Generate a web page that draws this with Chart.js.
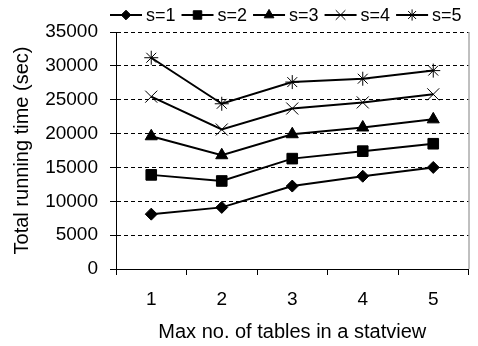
<!DOCTYPE html>
<html>
<head>
<meta charset="utf-8">
<script src="https://cdn.jsdelivr.net/npm/chart.js@4/dist/chart.umd.min.js"></script>
<style>
  html, body { margin: 0; padding: 0; background: #fff; }
  #wrap { width: 478px; height: 346px; }
</style>
</head>
<body>
<div id="wrap"><canvas id="c" width="478" height="346"></canvas></div>
<script>
// Max number of tables in a statview
const categories = ['1', '2', '3', '4', '5'];

// Total running time (sec) for each s
const s1 = [8100, 9100, 12250, 13700, 15000];
const s2 = [13900, 13000, 16300, 17400, 18500];
const s3 = [19600, 16800, 19900, 20900, 22100];
const s4 = [25450, 20600, 23700, 24600, 25800];
const s5 = [31200, 24400, 27600, 28100, 29300];

const seriesNames = ['s=1', 's=2', 's=3', 's=4', 's=5'];
const seriesValues = [s1, s2, s3, s4, s5];

const yTicks = { min: 0, max: 35000, step: 5000 };

const FONT = "'Liberation Sans', Arial, sans-serif";

const markerStyles = [
  { pointStyle: 'rectRot', radius: 6, borderWidth: 1 },
  { pointStyle: 'rect', radius: 7.5, borderWidth: 1 },
  { pointStyle: 'triangle', radius: 7, borderWidth: 1 },
  { pointStyle: 'crossRot', radius: 8.5, borderWidth: 1 },
  { pointStyle: 'star', radius: 7, borderWidth: 1 }
];

const datasets = seriesValues.map((vals, i) => ({
  label: seriesNames[i],
  data: vals,
  borderColor: '#000',
  backgroundColor: '#000',
  borderWidth: 2,
  tension: 0,
  pointStyle: markerStyles[i].pointStyle,
  pointRadius: markerStyles[i].radius,
  pointHoverRadius: markerStyles[i].radius,
  pointBorderWidth: markerStyles[i].borderWidth,
  pointBorderColor: '#000',
  pointBackgroundColor: '#000'
}));

// Legend row: short line with the marker in its middle, then the name
const lineLegend = {
  id: 'lineLegend',
  afterDraw(chart) {
    const ctx = chart.ctx;
    ctx.save();
    ctx.font = '18px ' + FONT;
    ctx.textBaseline = 'middle';
    ctx.textAlign = 'left';
    let x = 110;
    const y = 15;
    chart.data.datasets.forEach((ds) => {
      ctx.strokeStyle = '#000';
      ctx.lineWidth = 2;
      ctx.beginPath();
      ctx.moveTo(x, y);
      ctx.lineTo(x + 32, y);
      ctx.stroke();
      ctx.fillStyle = '#000';
      ctx.lineWidth = 1;
      Chart.helpers.drawPoint(ctx, {
        pointStyle: ds.pointStyle,
        radius: ds.pointRadius * 0.8,
        rotation: 0,
        borderWidth: 1
      }, x + 16, y);
      ctx.fillStyle = '#000';
      ctx.fillText(ds.label, x + 36, y + 1);
      x += 36 + ctx.measureText(ds.label).width + 6;
    });
    ctx.restore();
  }
};

// Right edge of the plot frame
const frameRight = {
  id: 'frameRight',
  beforeDatasetsDraw(chart) {
    const a = chart.chartArea;
    const ctx = chart.ctx;
    ctx.save();
    ctx.strokeStyle = '#808080';
    ctx.lineWidth = 1;
    ctx.beginPath();
    ctx.moveTo(a.right + 0.5, a.top);
    ctx.lineTo(a.right + 0.5, a.bottom);
    ctx.stroke();
    ctx.restore();
  }
};

new Chart(document.getElementById('c'), {
  type: 'line',
  data: { labels: categories, datasets },
  plugins: [lineLegend, frameRight],
  options: {
    responsive: false,
    animation: false,
    devicePixelRatio: 1,
    layout: { padding: { top: 32, right: 4, left: 0, bottom: 0 } },
    plugins: {
      legend: { display: false },
      tooltip: { enabled: false }
    },
    scales: {
      x: {
        type: 'category',
        offset: true,
        afterFit(scale) { scale.height = 77; },
        grid: {
          offset: true,
          drawOnChartArea: false,
          drawTicks: true,
          tickLength: 6,
          tickColor: '#000',
          color: '#000'
        },
        border: { display: true, color: '#000', width: 1 },
        ticks: {
          color: '#000',
          font: { family: FONT, size: 19 },
          padding: 13,
          maxRotation: 0
        },
        title: {
          display: true,
          text: 'Max no. of tables in a statview',
          color: '#000',
          font: { family: FONT, size: 20 },
          padding: { top: 0, bottom: 2 }
        }
      },
      y: {
        min: yTicks.min,
        max: yTicks.max,
        afterFit(scale) { scale.width = 116; },
        grid: {
          color: '#000',
          lineWidth: 1,
          drawTicks: true,
          tickLength: 6,
          tickColor: '#000',
          tickBorderDash: []
        },
        border: { display: true, color: '#000', width: 1, dash: [4, 3] },
        ticks: {
          stepSize: yTicks.step,
          color: '#000',
          font: { family: FONT, size: 19 },
          padding: 12,
          callback: (v) => String(v)
        },
        title: {
          display: true,
          text: 'Total running time (sec)',
          color: '#000',
          font: { family: FONT, size: 20 },
          padding: { top: 10, bottom: 0 }
        }
      }
    }
  }
});
</script>
</body>
</html>
